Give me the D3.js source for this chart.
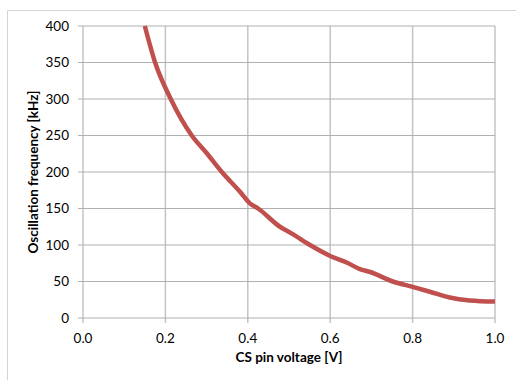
<!DOCTYPE html>
<html>
<head>
<meta charset="utf-8">
<script src="https://cdn.jsdelivr.net/npm/d3@7"></script>
<style>
  html, body { margin: 0; padding: 0; background: #fff; }
  svg { display: block; }
  text { font-family: Lato, "Open Sans", sans-serif; fill: #000; }
</style>
</head>
<body>
<svg id="chart" width="516" height="380"></svg>
<script>
// CS pin voltage [V]
const voltage = [0.150, 0.175, 0.213, 0.264, 0.300, 0.337, 0.381, 0.405, 0.425, 0.478, 0.506,
                 0.551, 0.600, 0.640, 0.672, 0.697, 0.752, 0.798, 0.842, 0.890, 0.939, 1.000];
// Oscillation frequency [kHz]
const frequency = [400, 350, 300, 250, 226, 200, 173, 157, 150, 125, 116,
                   100, 85, 76, 67, 63, 50, 43, 36, 28, 24, 22.5];

const xTicks = [0, 0.2, 0.4, 0.6, 0.8, 1.0];
const yTicks = [0, 50, 100, 150, 200, 250, 300, 350, 400];
const xTitle = "CS pin voltage [V]";
const yTitle = "Oscillation frequency [kHz]";

const svg = d3.select("#chart");
const margin = { left: 83, right: 21, top: 26, bottom: 62 };
const W = 516, H = 380;

const x = d3.scaleLinear().domain([0, 1]).range([margin.left, W - margin.right]);
const y = d3.scaleLinear().domain([0, 400]).range([H - margin.bottom, margin.top]);

// outer frame (top and left edges)
svg.append("path")
  .attr("d", `M7.5,${H} V10.5 H${W}`)
  .attr("fill", "none").attr("stroke", "#d4d4d4").attr("stroke-width", 1);

// vertical gridlines, running slightly below the axis as tick marks
svg.append("g").selectAll("line").data(xTicks).join("line")
  .attr("x1", d => x(d)).attr("x2", d => x(d))
  .attr("y1", y(400)).attr("y2", y(0) + 5)
  .attr("stroke", "#c4c4c4").attr("stroke-width", 1.5);

// horizontal gridlines with tick marks on the left
svg.append("g").selectAll("line").data(yTicks).join("line")
  .attr("x1", x(0) - 5).attr("x2", x(1))
  .attr("y1", d => y(d)).attr("y2", d => y(d))
  .attr("stroke", "#b0b0b0").attr("stroke-width", 1);

// y tick labels
svg.append("g").selectAll("text").data(yTicks).join("text")
  .attr("x", x(0) - 14).attr("y", d => y(d))
  .attr("dy", "0.35em").attr("text-anchor", "end")
  .attr("font-size", 13.5)
  .text(d => d);

// x tick labels
svg.append("g").selectAll("text").data(xTicks).join("text")
  .attr("x", d => x(d)).attr("y", y(0) + 25)
  .attr("text-anchor", "middle")
  .attr("font-size", 13.5)
  .text(d => d3.format(".1f")(d));

// axis titles
svg.append("text")
  .attr("x", (x(0) + x(1)) / 2).attr("y", 362)
  .attr("text-anchor", "middle").attr("font-size", 13.5).attr("font-weight", "bold")
  .text(xTitle);

svg.append("text")
  .attr("transform", `translate(38,${(y(0) + y(400)) / 2}) rotate(-90)`)
  .attr("text-anchor", "middle").attr("font-size", 13.5).attr("font-weight", "bold")
  .text(yTitle);

// frequency curve
const line = d3.line()
  .x((d, i) => x(voltage[i]))
  .y(d => y(d))
  .curve(d3.curveMonotoneX);

svg.append("path")
  .datum(frequency)
  .attr("d", line)
  .attr("fill", "none")
  .attr("stroke", "#c0504d")
  .attr("stroke-width", 4.5)
  .attr("stroke-linejoin", "round");
</script>
</body>
</html>
